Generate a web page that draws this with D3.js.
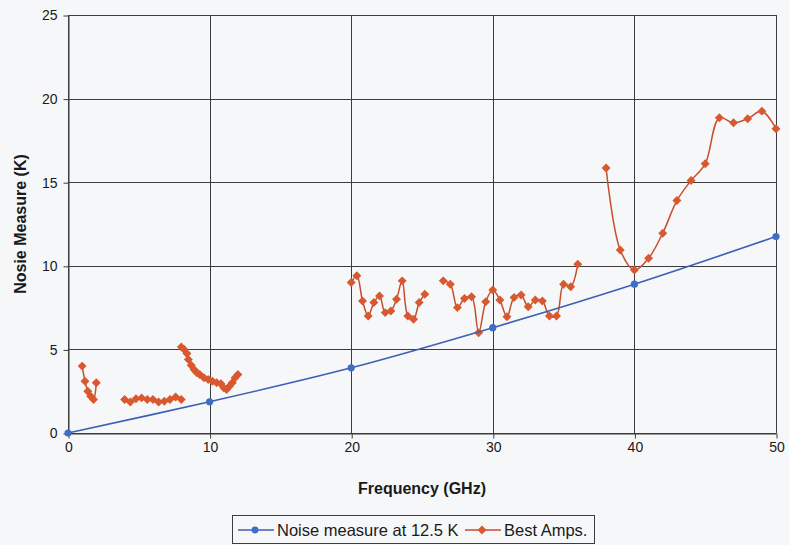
<!DOCTYPE html>
<html>
<head>
<meta charset="utf-8">
<script src="https://cdn.jsdelivr.net/npm/d3@7"></script>
<style>
  body { margin: 0; background: #f6f7f9; }
  svg { display: block; font-family: "Liberation Sans", Arial, sans-serif; }
</style>
</head>
<body>
<div id="chart"></div>
<script>
const width = 789;
const height = 545;
const margin = { top: 15, right: 13, bottom: 112, left: 68 };

// blue series - noise measure at 12.5 K
const noiseFreq = [0, 10, 20, 30, 40, 50];
const noiseVals = [0, 1.87, 3.9, 6.3, 8.9, 11.75];

// red series - best amps, split where the data has gaps
const ampSegments = [
  {
    freq: [1.0, 1.2, 1.4, 1.6, 1.8, 2.0],
    vals: [4.0, 3.1, 2.5, 2.2, 2.0, 3.0]
  },
  {
    freq: [4.0, 4.4, 4.8, 5.2, 5.6, 6.0, 6.4, 6.8, 7.2, 7.6, 8.0],
    vals: [2.0, 1.85, 2.05, 2.1, 2.0, 2.0, 1.85, 1.9, 2.0, 2.15, 2.0]
  },
  {
    freq: [8.0, 8.2, 8.4, 8.5, 8.7, 8.9, 9.1, 9.3, 9.6, 9.9, 10.2, 10.5, 10.8, 11.0, 11.2, 11.4, 11.6, 11.8, 12.0],
    vals: [5.15, 5.0, 4.75, 4.4, 4.05, 3.8, 3.6, 3.5, 3.3, 3.2, 3.1, 3.0, 2.95, 2.7, 2.6, 2.8, 3.0, 3.3, 3.5]
  },
  {
    freq: [20.0, 20.4, 20.8, 21.2, 21.6, 22.0, 22.4, 22.8, 23.2, 23.6, 24.0, 24.4, 24.8, 25.2],
    vals: [9.0, 9.4, 7.9, 7.0, 7.8, 8.2, 7.2, 7.3, 8.0, 9.1, 7.0, 6.8, 7.8, 8.3]
  },
  {
    freq: [26.5, 27, 27.5, 28, 28.5, 29, 29.5, 30, 30.5, 31, 31.5, 32, 32.5, 33, 33.5, 34, 34.5, 35, 35.5, 36],
    vals: [9.1, 8.9, 7.5, 8.05, 8.15, 6.0, 7.85, 8.55, 7.95, 6.95, 8.1, 8.25, 7.55, 7.95, 7.9, 7.0, 7.0, 8.9, 8.75, 10.1]
  },
  {
    freq: [38, 39, 40, 41, 42, 43, 44, 45, 46, 47, 48, 49, 50],
    vals: [15.85, 10.95, 9.75, 10.45, 11.95, 13.9, 15.1, 16.1, 18.85, 18.55, 18.8, 19.25, 18.2]
  }
];

const xTicks = [0, 10, 20, 30, 40, 50];
const yTicks = [0, 5, 10, 15, 20, 25];

const blue = "#3d5fb4";
const red = "#c94d2c";
const redMarker = "#d8582f";
const gridColor = "#3c3c3c";

const svg = d3.select("#chart").append("svg")
  .attr("width", width)
  .attr("height", height);

const x = d3.scaleLinear().domain([0, 50]).range([margin.left, width - margin.right]);
const y = d3.scaleLinear().domain([0, 25]).range([height - margin.bottom, margin.top]);

// gridlines
svg.append("g")
  .selectAll("line.h")
  .data(yTicks)
  .join("line")
  .attr("x1", x(0)).attr("x2", x(50))
  .attr("y1", d => Math.round(y(d)) + 0.5).attr("y2", d => Math.round(y(d)) + 0.5)
  .attr("stroke", gridColor).attr("stroke-width", 1);

svg.append("g")
  .selectAll("line.v")
  .data(xTicks)
  .join("line")
  .attr("y1", y(0)).attr("y2", y(25))
  .attr("x1", d => Math.round(x(d)) + 0.5).attr("x2", d => Math.round(x(d)) + 0.5)
  .attr("stroke", gridColor).attr("stroke-width", 1);

// axes
const xAxis = svg.append("g")
  .attr("transform", `translate(0.5,${Math.round(y(0)) + 0.5})`)
  .call(d3.axisBottom(x).tickValues(xTicks).tickSize(5).tickPadding(4).tickSizeOuter(0));
const yAxis = svg.append("g")
  .attr("transform", `translate(${Math.round(x(0)) + 0.5},0.5)`)
  .call(d3.axisLeft(y).tickValues(yTicks).tickSize(5).tickPadding(6).tickSizeOuter(0));

[xAxis, yAxis].forEach(g => {
  g.select(".domain").attr("stroke", gridColor);
  g.selectAll(".tick line").attr("stroke", gridColor);
  g.selectAll(".tick text")
    .attr("fill", "#1a1a1a")
    .style("font-size", "14px")
    .style("font-family", "Liberation Sans, Arial, sans-serif");
});

// axis titles
svg.append("text")
  .attr("x", (x(0) + x(50)) / 2)
  .attr("y", 494)
  .attr("text-anchor", "middle")
  .style("font-size", "16px")
  .style("font-weight", "bold")
  .attr("fill", "#1a1a1a")
  .text("Frequency (GHz)");

svg.append("text")
  .attr("transform", `translate(26,${(y(0) + y(25)) / 2}) rotate(-90)`)
  .attr("text-anchor", "middle")
  .style("font-size", "16px")
  .style("font-weight", "bold")
  .attr("fill", "#1a1a1a")
  .text("Nosie Measure (K)");

const line = d3.line()
  .x(d => x(d[0]))
  .y(d => y(d[1]))
  .curve(d3.curveCatmullRom.alpha(0.5));

// red series, diamonds drawn as rotated squares
const diamond = d3.symbol().type(d3.symbolSquare).size(40);
ampSegments.forEach(seg => {
  const pts = seg.freq.map((f, i) => [f, seg.vals[i]]);
  svg.append("path")
    .datum(pts)
    .attr("d", line)
    .attr("fill", "none")
    .attr("stroke", red)
    .attr("stroke-width", 1.5);
  svg.append("g")
    .selectAll("path")
    .data(pts)
    .join("path")
    .attr("d", diamond)
    .attr("transform", d => `translate(${x(d[0])},${y(d[1])}) rotate(45)`)
    .attr("fill", redMarker);
});

// blue series
const noisePts = noiseFreq.map((f, i) => [f, noiseVals[i]]);
svg.append("path")
  .datum(noisePts)
  .attr("d", line)
  .attr("fill", "none")
  .attr("stroke", blue)
  .attr("stroke-width", 1.6);
svg.append("g")
  .selectAll("circle")
  .data(noisePts)
  .join("circle")
  .attr("cx", d => x(d[0]))
  .attr("cy", d => y(d[1]))
  .attr("r", 3.6)
  .attr("fill", "#3f6cc4");

// legend
const legend = svg.append("g");
legend.append("rect")
  .attr("x", 232.5).attr("y", 515.5)
  .attr("width", 362).attr("height", 28)
  .attr("fill", "none")
  .attr("stroke", gridColor);

const legendItems = [
  { label: "Noise measure at 12.5 K", color: blue, x0: 238, marker: "circle" },
  { label: "Best Amps.", color: red, x0: 465, marker: "diamond" }
];
legendItems.forEach(it => {
  legend.append("line")
    .attr("x1", it.x0).attr("x2", it.x0 + 36)
    .attr("y1", 530).attr("y2", 530)
    .attr("stroke", it.color).attr("stroke-width", 1.6);
  if (it.marker === "circle") {
    legend.append("circle").attr("cx", it.x0 + 17).attr("cy", 530).attr("r", 3.4).attr("fill", "#3f6cc4");
  } else {
    legend.append("path").attr("d", diamond).attr("transform", `translate(${it.x0 + 17},530) rotate(45)`).attr("fill", redMarker);
  }
  legend.append("text")
    .attr("x", it.x0 + 39).attr("y", 536)
    .style("font-size", "16.5px")
    .attr("fill", "#1a1a1a")
    .text(it.label);
});
</script>
</body>
</html>
